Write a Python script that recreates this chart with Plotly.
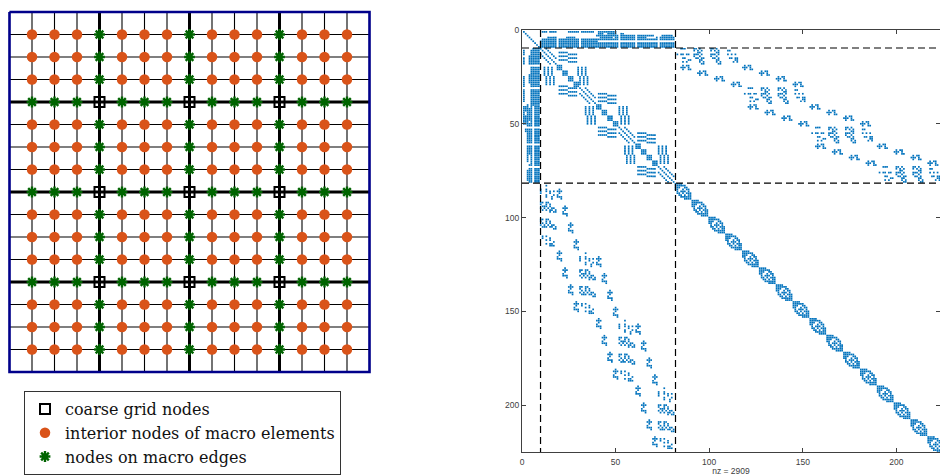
import plotly.graph_objects as go

# ---------- left panel: mesh ----------
GRID_LINES = [0,1,2,3,4,5,6,7,8,9,10,11,12,13,14,15,16]
NODE_IDX = [1,2,3,4,5,6,7,8,9,10,11,12,13,14,15]
MACRO_IDX = [4,8,12]
FRAME_X = [0,16,16,0,0]
FRAME_Y = [0,0,16,16,0]
LEGEND_LABELS = ["coarse grid nodes", "interior nodes of macro elements", "nodes on macro edges"]

# ---------- right panel: sparsity pattern ----------
AXIS_TICKS = [0,50,100,150,200]
NZ_LABEL = "nz = 2909"
GUIDE_ROWS = [9.6, 81.6]
GUIDE_COLS = [9.9, 82.0]
COARSE_DIAG = [1,2,3,4,5,6,7,8,9]
TOP_SPANS = {
    1: [(11,13),(15,18),(25,38),(41,50)],
    2: [(41,43),(46,50),(52,54)],
    3: [(40,70),(75,80)],
    4: [(14,18),(24,28),(42,48),(50,66),(72,81)],
    5: [(11,81)],
    6: [(10,40)],
    7: [(10,81)],
    8: [(10,81)],
    9: [(10,81)],
}
TOP_GAP_COLS = [19,31,52,61,73]
EDGE_THIN_SEGMENTS = [(10,18),(31,39),(52,60),(73,81)]
EDGE_THIN_OFFSET = [3]
EDGE_THICK_STARTS = [19,22,25,28,40,43,46,49,61,64,67,70]
WING_ANCHORS = [(12,20),(30,20),(34,41),(52,41),(55,62),(73,62)]
WING_SPANS = [(0,0,5),(1,5,10),(2,0,5),(3,5,10),(4,0,5),(5,5,10)]
DIAMOND_STARTS = [82,91,100,109,118,127,136,145,154,163,172,181,190,199,208,217]
DIAMOND_ROWS = [
    [0,1,2,3],
    [0,1,2,3,4,5],
    [0,1,2,5,6],
    [0,1,4,6,7],
    [1,3,4,5,7],
    [1,2,4,6,7,8],
    [2,3,5,7,8],
    [3,4,5,6,7,8],
    [5,6,7,8],
]
TILE_ROWS = [10,31,52,73]
TILE_COLS = [83,119,155,191]
TILE_SCATTER = [
    [2,3,4,9,10,12,18,19,21],
    [9,11,13,18,20,22,27,28],
    [11,12,21,22],
    [0,2,3,5,6,9,10,11,13,18,19,20,22,27,29,31],
    [9,12,18,21],
    [3,4,10,11,13,14,19,20,22,28,29,31,32],
    [6,7,12,13,21,22,31,32],
    [3,5,12,14,21,23,30,32],
    [13,14,22,23],
]
CLUSTER_TILES = [0,1,2]
CLUSTER_ROW_OFFSETS = [9,12,15,18]
CLUSTER_LEFT_COLS = [2,11,20,29]
CLUSTER_RIGHT_COLS = [35,44,53,62]
CLUSTER_MOTIF = [(0,1),(1,0),(1,1),(1,2),(2,1),(0,3),(0,4),(1,4),(2,4),(2,5)]

# ---------- styles ----------
ORANGE = "#D95319"
GREEN = "#006400"
NAVY = "#00008B"
SPY = "#0072BD"
AXC = "#404040"
W, H = 940, 476

# ---------- mesh marks ----------
thin_x, thin_y, thick_x, thick_y = [], [], [], []
for g in GRID_LINES:
    tx, ty = (thick_x, thick_y) if g in MACRO_IDX else (thin_x, thin_y)
    tx += [g, g, None, 0, 16, None]
    ty += [0, 16, None, g, g, None]

coarse, interior, edge = [[], []], [[], []], [[], []]
for i in NODE_IDX:
    for j in NODE_IDX:
        n = (i in MACRO_IDX) + (j in MACRO_IDX)
        bucket = coarse if n == 2 else edge if n == 1 else interior
        bucket[0].append(j)
        bucket[1].append(i)

# ---------- spy marks ----------
cells = set()
def sym(r, c):
    cells.add((r, c))
    cells.add((c, r))

for d in COARSE_DIAG:
    sym(d, d)
for r, spans in TOP_SPANS.items():
    for a, b in spans:
        for c in range(a, b + 1):
            if c not in TOP_GAP_COLS:
                sym(r, c)
for a, b in EDGE_THIN_SEGMENTS:
    for r in range(a, b + 1):
        sym(r, r)
        for off in EDGE_THIN_OFFSET:
            if r + off <= b:
                sym(r, r + off)
for s in EDGE_THICK_STARTS:
    for r in range(3):
        for c in range(3):
            sym(s + r, s + c)
for ar, ac in WING_ANCHORS:
    for dr, c0, c1 in WING_SPANS:
        for c in range(c0, c1):
            sym(ar + dr, ac + c)
for s in DIAMOND_STARTS:
    for r, cols in enumerate(DIAMOND_ROWS):
        for c in cols:
            sym(s + r, s + c)
for k, (tr, tc) in enumerate(zip(TILE_ROWS, TILE_COLS)):
    for r, cols in enumerate(TILE_SCATTER):
        for c in cols:
            sym(tr + r, tc + c)
    if k in CLUSTER_TILES:
        for n, ro in enumerate(CLUSTER_ROW_OFFSETS):
            for cc in (CLUSTER_LEFT_COLS[n], CLUSTER_RIGHT_COLS[n]):
                for mr, mc in CLUSTER_MOTIF:
                    sym(tr + ro + mr, tc + cc + mc)
spy_c = [c for r, c in cells]
spy_r = [r for r, c in cells]

# ---------- figure ----------
fig = go.Figure()
L = dict(xaxis="x", yaxis="y", hoverinfo="skip")
R = dict(xaxis="x2", yaxis="y2", hoverinfo="skip")

fig.add_trace(go.Scatter(x=thin_x, y=thin_y, mode="lines", line=dict(color="black", width=1.1), showlegend=False, **L))
fig.add_trace(go.Scatter(x=thick_x, y=thick_y, mode="lines", line=dict(color="black", width=3), showlegend=False, **L))
fig.add_trace(go.Scatter(x=FRAME_X, y=FRAME_Y, mode="lines", line=dict(color=NAVY, width=2.6), showlegend=False, **L))
fig.add_trace(go.Scatter(x=coarse[0], y=coarse[1], mode="markers", name=LEGEND_LABELS[0],
                         marker=dict(symbol="square-open", size=10, color="black", line=dict(color="black", width=2)), **L))
fig.add_trace(go.Scatter(x=interior[0], y=interior[1], mode="markers", name=LEGEND_LABELS[1],
                         marker=dict(symbol="circle", size=10.5, color=ORANGE, line=dict(width=0)), **L))
fig.add_trace(go.Scatter(x=edge[0], y=edge[1], mode="markers", name=LEGEND_LABELS[2],
                         marker=dict(symbol="asterisk-open", size=9, color=GREEN, line=dict(color=GREEN, width=2.4)), **L))

fig.add_trace(go.Scatter(x=spy_c, y=spy_r, mode="markers", showlegend=False,
                         marker=dict(symbol="square", size=1.7, color=SPY, line=dict(width=0)), **R))
for g in GUIDE_ROWS:
    fig.add_trace(go.Scatter(x=[0, 224], y=[g, g], mode="lines", showlegend=False,
                             line=dict(color="black", width=1.2, dash="7px,4px"), **R))
for g in GUIDE_COLS:
    fig.add_trace(go.Scatter(x=[g, g], y=[0, 225], mode="lines", showlegend=False,
                             line=dict(color="black", width=1.2, dash="7px,4px"), **R))

hidden = dict(visible=False, fixedrange=True)
spy_axis = dict(tickmode="array", tickvals=AXIS_TICKS, ticktext=[str(t) for t in AXIS_TICKS],
                ticks="inside", ticklen=4, tickwidth=1, tickcolor=AXC, showgrid=False, zeroline=False,
                showline=True, linecolor=AXC, linewidth=1, mirror="ticks",
                tickfont=dict(family="Liberation Sans", size=8.5, color=AXC), fixedrange=True)
fig.update_layout(
    width=W, height=H, autosize=False,
    margin=dict(l=0, r=0, t=0, b=0, pad=0, autoexpand=False),
    paper_bgcolor="white", plot_bgcolor="white",
    xaxis=dict(domain=[4/W, 375/W], range=[(4-9.5)/22.5, (375-9.5)/22.5], **hidden),
    yaxis=dict(domain=[1-378/H, 1-6/H], range=[(378-12)/22.5, (6-12)/22.5], **hidden),
    xaxis2=dict(domain=[522/W, 1], range=[0, 418/1.872], anchor="y2", ticklabelstandoff=2,
                title=dict(text=NZ_LABEL, font=dict(family="Liberation Sans", size=8.5, color=AXC), standoff=2),
                **spy_axis),
    yaxis2=dict(domain=[1-452/H, 1-30/H], range=[225, 0], anchor="x2", **spy_axis),
    legend=dict(x=24/W, y=1-391/H, xanchor="left", yanchor="top",
                bgcolor="white", bordercolor="#333333", borderwidth=1,
                font=dict(family="DejaVu Serif", size=16, color="#111111"),
                itemwidth=30, tracegroupgap=0, entrywidth=299, entrywidthmode="pixels"),
    showlegend=True,
)
fig.write_html("out.html", config=dict(displayModeBar=False),
               post_script="document.body.style.margin='0';")
